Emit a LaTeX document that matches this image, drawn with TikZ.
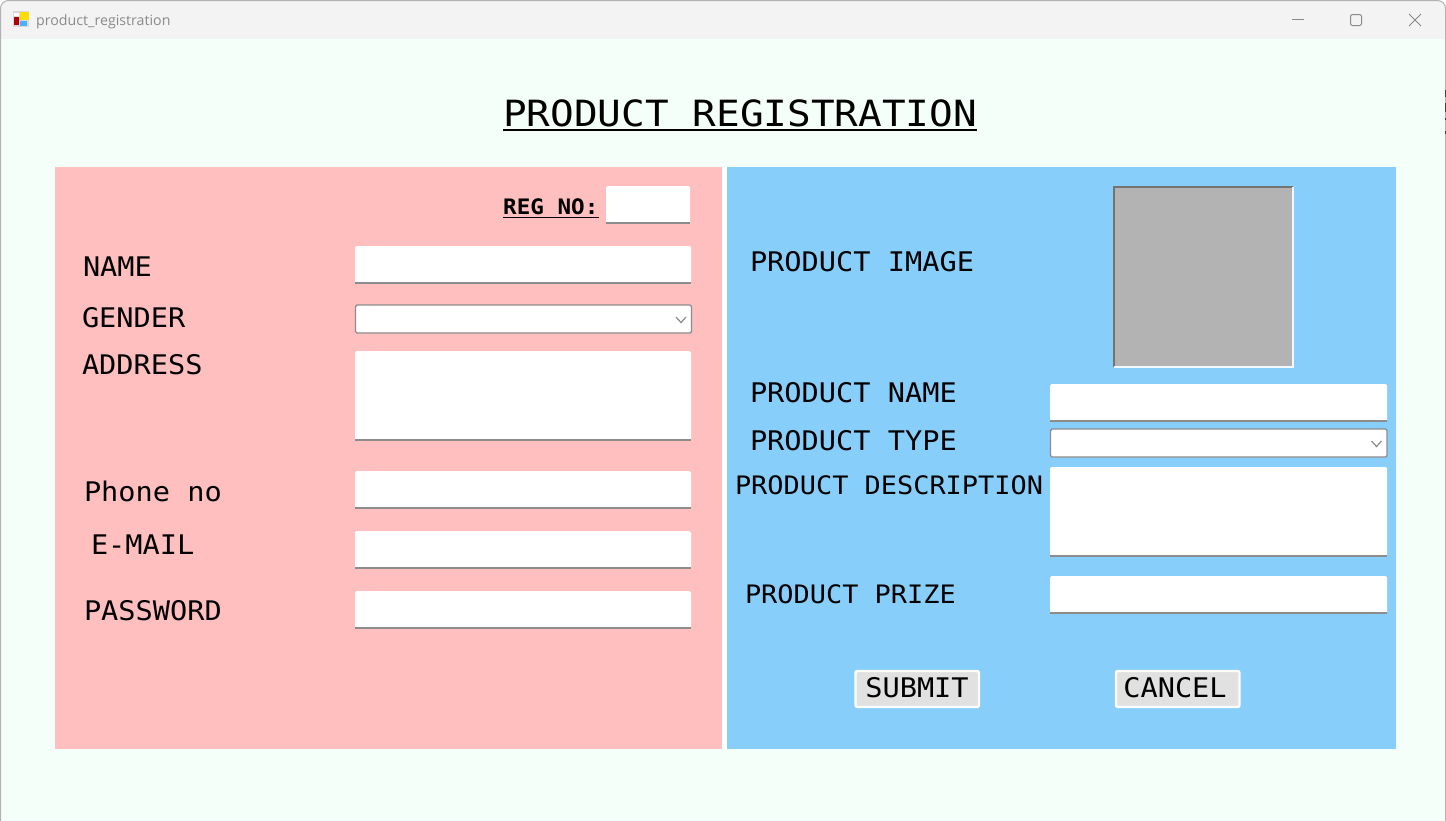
\documentclass[tikz,border=0pt]{standalone}
\usepackage{fontspec}
\setmainfont[FakeStretch=1.06]{DejaVu Sans Mono}
\newfontfamily\titlefont[FakeStretch=1.09]{DejaVu Sans Mono}
\newfontfamily\uifont{Open Sans}
\definecolor{mint}{HTML}{F5FFFA}
\definecolor{barbg}{HTML}{F3F3F3}
\definecolor{pinkp}{HTML}{FFBFBF}
\definecolor{bluep}{HTML}{87CEFA}
\definecolor{edgeg}{HTML}{8C8C8C}
\definecolor{wing}{HTML}{8A8A8A}
\definecolor{imgg}{HTML}{B3B3B3}
\definecolor{btn}{HTML}{E1E1E1}
\newcommand{\fsz}[1]{\fontsize{#1}{#1}\selectfont}
\tikzset{
  x=1pt,y=-1pt,
  lab/.style={anchor=base west,inner sep=0pt,outer sep=0pt,text=black,font=\fsz{27}},
  labs/.style={lab,font=\fsz{25.4}},
  fieldbox/.style={draw=none,fill=white,rounded corners=1.5pt},
  combobox/.style={draw=edgeg,line width=1.4pt,fill=white,rounded corners=1.5pt},
  wctl/.style={draw=wing,line width=1pt},
  btnbox/.style={draw=white,line width=2.4pt,fill=btn,rounded corners=2pt},
  btnlab/.style={inner sep=0pt,anchor=base,text=black,font=\fsz{27}}
}
% field: name, x0, y0, x1, y1
\newcommand{\field}[5]{%
  \fill[fieldbox] (#2,#3) rectangle (#4,#5);
  \draw[edgeg,line width=1.2pt] (#2,#5) -- (#4,#5);
  \node[inner sep=0pt,minimum size=0pt] (#1) at ({(#2+#4)/2},{(#3+#5)/2}) {};
}
\newcommand{\combo}[5]{%
  \draw[combobox] (#2,#3) rectangle (#4,#5);
  \draw[wing,line width=1.2pt] ({#4-15.5},{(#3+#5)/2-2}) -- ({#4-10.5},{(#3+#5)/2+3.5}) -- ({#4-5.5},{(#3+#5)/2-2});
  \node[inner sep=0pt,minimum size=0pt] (#1) at ({(#2+#4)/2},{(#3+#5)/2}) {};
}
\begin{document}
\begin{tikzpicture}
\useasboundingbox (0,0) rectangle (1446,820);
% window
\fill[white] (0,0) rectangle (1446,820);
\fill[mint,rounded corners=8pt] (0.5,0.5) rectangle (1445.5,830);
\fill[barbg,rounded corners=8pt] (0.5,0.5) rectangle (1445.5,30);
\fill[barbg] (0.5,15) rectangle (1445.5,38.5);
\draw[gray!60,line width=1pt,rounded corners=8pt] (0.5,830) -- (0.5,0.5) -- (1445.5,0.5) -- (1445.5,830);
% icon
\fill[gray!30] (13,11) rectangle (29,27);
\fill[yellow!80!orange] (20,11.5) rectangle (28.5,20);
\fill[white] (13.5,13) rectangle (19,16);
\fill[red!70!black] (13.5,16.5) rectangle (19,25);
\fill[blue!45!cyan!70] (20,21) rectangle (27,26);
\node[anchor=base west,inner sep=0pt,text=wing,font=\uifont\fsz{14.2}] (wintitle) at (36,25) {product\_registration};
% window controls
\draw[wctl] (1292,19.5) -- (1304,19.5);
\draw[wctl,rounded corners=1.5pt] (1350.5,14.5) rectangle (1361.5,25.5);
\draw[wctl] (1409,14) -- (1421,26) (1421,14) -- (1409,26);
% right edge artefact
\draw[black!75,line width=1pt] (1445.5,90) -- (1445.5,97) (1445.5,103) -- (1445.5,112) (1445.5,118) -- (1445.5,120) (1445.5,131) -- (1445.5,134);
% title
\node[anchor=base west,inner sep=0pt,text=black,font=\titlefont\fsz{36.1}] (title) at (503,126) {PRODUCT REGISTRATION};
\draw[black,line width=2.4pt] (503,130) -- (977,130);
% panels
\fill[pinkp] (55,167) rectangle (722,749);
\fill[white] (722,167) rectangle (727,749);
\fill[bluep] (727,167) rectangle (1396,749);
% left labels
\node[anchor=base west,inner sep=0pt,text=black,font=\bfseries\fsz{21.3}] (regno) at (503,214) {REG NO:};
\draw[black,line width=1.4pt] (503,217.5) -- (599,217.5);
\field{fregno}{606}{186}{690}{223}
\node[lab] (lname) at (83,276.5) {NAME};
\field{fname}{355}{246}{691}{283}
\node[lab] (lgender) at (82,327.5) {GENDER};
\combo{fgender}{355.5}{305}{691.5}{333}
\node[lab] (laddr) at (82,374) {ADDRESS};
\field{faddr}{355}{351}{691}{440}
\node[lab] (lphone) at (84,501) {Phone no};
\field{fphone}{355}{471}{691}{508}
\node[lab] (lmail) at (91,554) {E-MAIL};
\field{fmail}{355}{531}{691}{568}
\node[lab] (lpass) at (84,620.5) {PASSWORD};
\field{fpass}{355}{591}{691}{628}
% right labels
\node[lab] (limg) at (750,271.5) {PRODUCT IMAGE};
\fill[imgg] (1113,186) rectangle (1293,367);
\draw[gray!90!black,line width=2pt] (1114,367) -- (1114,187) -- (1293,187);
\draw[white!90!bluep,line width=2pt] (1114,366.5) -- (1292.5,366.5) -- (1292.5,187);
\node[inner sep=0pt] (fimg) at (1203,276.5) {};
\node[lab] (lpname) at (750,402.5) {PRODUCT NAME};
\field{fpname}{1050}{384}{1387}{421}
\node[lab] (lptype) at (750,450) {PRODUCT TYPE};
\combo{fptype}{1050.5}{429}{1387}{457}
\node[labs] (lpdesc) at (735,494) {PRODUCT DESCRIPTION};
\field{fpdesc}{1050}{467}{1387}{556}
\node[labs] (lpprize) at (745,603) {PRODUCT PRIZE};
\field{fpprize}{1050}{576}{1387}{613}
% buttons
\draw[btnbox] (855.5,671) rectangle (979,707);
\node[btnlab] (bsubmit) at (917,697.5) {SUBMIT};
\draw[btnbox] (1116,671) rectangle (1239.5,707);
\node[btnlab] (bcancel) at (1175,697.5) {CANCEL};
\end{tikzpicture}
\end{document}
